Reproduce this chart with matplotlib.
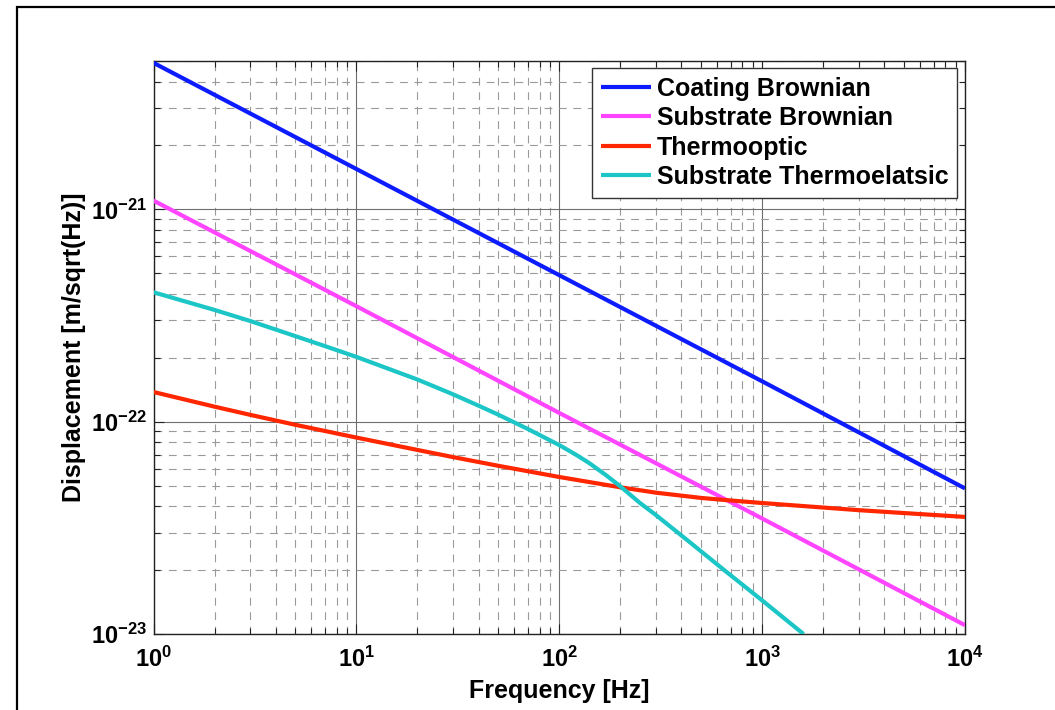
import numpy as np
import matplotlib
matplotlib.use("Agg")
import matplotlib.pyplot as plt
from matplotlib.patches import Rectangle
from matplotlib.ticker import FixedLocator, FixedFormatter, LogLocator, NullFormatter

# ---- noise spectra [m/sqrt(Hz)] ----
freq_coating = [1, 10, 100, 1000, 10000]
coating_brownian = [4.9e-21, 1.55e-21, 4.9e-22, 1.55e-22, 4.85e-23]

freq_substrate = [1, 10, 100, 1000, 10000]
substrate_brownian = [1.1e-21, 3.5e-22, 1.1e-22, 3.5e-23, 1.1e-23]

freq_thermooptic = [1, 2, 3, 5, 10, 20, 30, 50, 100, 200, 300, 500, 650, 1000, 3000, 10000]
thermooptic = [1.38e-22, 1.177e-22, 1.077e-22, 9.67e-23, 8.42e-23, 7.36e-23, 6.81e-23,
               6.2e-23, 5.49e-23, 4.91e-23, 4.63e-23, 4.375e-23, 4.28e-23, 4.14e-23,
               3.83e-23, 3.56e-23]

freq_thermoelastic = [1, 2, 3, 5, 7, 10, 20, 30, 40, 50, 70, 100, 120, 140, 170, 200,
                      250, 300, 450, 650, 1000, 1600]
substrate_thermoelastic = [4.07e-22, 3.36e-22, 2.98e-22, 2.53e-22, 2.27e-22, 2.02e-22,
                           1.58e-22, 1.345e-22, 1.19e-22, 1.08e-22, 9.24e-23, 7.76e-23,
                           7.02e-23, 6.4e-23, 5.6e-23, 4.96e-23, 4.14e-23, 3.63e-23,
                           2.66e-23, 2.0e-23, 1.44e-23, 1.0e-23]

series_labels = ["Coating Brownian", "Substrate Brownian", "Thermooptic",
                 "Substrate Thermoelatsic"]
series_colors = ["#0c1cff", "#ff45ff", "#ff2600", "#1cc6c6"]

x_ticks = [1, 10, 100, 1000, 10000]
x_tick_labels = [r"$\mathbf{10^{0}}$", r"$\mathbf{10^{1}}$", r"$\mathbf{10^{2}}$",
                 r"$\mathbf{10^{3}}$", r"$\mathbf{10^{4}}$"]
y_ticks = [1e-23, 1e-22, 1e-21]
y_tick_labels = [r"$\mathbf{10^{-23}}$", r"$\mathbf{10^{-22}}$", r"$\mathbf{10^{-21}}$"]

plt.rcParams.update({
    "font.family": "Liberation Sans",
    "font.weight": "bold",
    "mathtext.fontset": "custom",
    "mathtext.rm": "Liberation Sans:bold",
    "mathtext.bf": "Liberation Sans:bold",
    "mathtext.it": "Liberation Sans:bold:italic",
})

fig = plt.figure(figsize=(10.55, 7.10), dpi=100)
ax = fig.add_axes([153.5 / 1055, 1 - 634 / 710, (965 - 153.5) / 1055, (634 - 61) / 710])

data = [(freq_coating, coating_brownian), (freq_substrate, substrate_brownian),
        (freq_thermooptic, thermooptic), (freq_thermoelastic, substrate_thermoelastic)]
for (f, v), lab, col in zip(data, series_labels, series_colors):
    ax.plot(f, v, color=col, lw=3.0, label=lab, solid_capstyle="butt",
            solid_joinstyle="round", zorder=3)

ax.set_xscale("log")
ax.set_yscale("log")
ax.set_xlim(1, 1e4)
ax.set_ylim(1e-23, 5e-21)

ax.xaxis.set_major_locator(FixedLocator(x_ticks))
ax.xaxis.set_major_formatter(FixedFormatter(x_tick_labels))
ax.yaxis.set_major_locator(FixedLocator(y_ticks))
ax.yaxis.set_major_formatter(FixedFormatter(y_tick_labels))
ax.xaxis.set_minor_locator(LogLocator(base=10, subs=np.arange(2, 10), numticks=20))
ax.yaxis.set_minor_locator(LogLocator(base=10, subs=np.arange(2, 10), numticks=20))
ax.xaxis.set_minor_formatter(NullFormatter())
ax.yaxis.set_minor_formatter(NullFormatter())

ax.tick_params(which="both", direction="in", top=True, right=True, labelsize=17,
               color="#222222", width=0.8)
ax.tick_params(which="major", length=7)
ax.tick_params(axis="x", which="major", pad=9)
ax.tick_params(axis="y", which="major", pad=5)
ax.tick_params(which="minor", length=4)

ax.grid(which="major", color="#6e6e6e", lw=0.8, ls="-", zorder=1)
ax.grid(which="minor", color="#9a9a9a", lw=0.8, ls=(0, (7, 6)), zorder=1)
ax.set_axisbelow(True)
for sp in ax.spines.values():
    sp.set_linewidth(1.0)
    sp.set_color("#222222")

ax.set_xlabel("Frequency [Hz]", fontsize=18, fontweight="bold", labelpad=5)
ax.set_ylabel("Displacement [m/sqrt(Hz)]", fontsize=18, fontweight="bold", labelpad=3)

leg = ax.legend(loc="upper right", bbox_to_anchor=(0.9901, 0.9878), borderaxespad=0,
                fontsize=18, frameon=True, fancybox=False, handlelength=2.0,
                handletextpad=0.22, labelspacing=0.22, borderpad=0.35)
leg.get_frame().set_edgecolor("#333333")
leg.get_frame().set_linewidth(1.0)
leg.get_frame().set_alpha(1)
for h in leg.get_lines():
    h.set_linewidth(3.0)

# outer figure frame
fig.patches.append(Rectangle((16.5 / 1055, -0.1), 1.2, 1.1 - 6.5 / 710,
                             transform=fig.transFigure, fill=False, lw=1.6,
                             edgecolor="black", clip_on=False))

fig.savefig("out.png", dpi=100)
